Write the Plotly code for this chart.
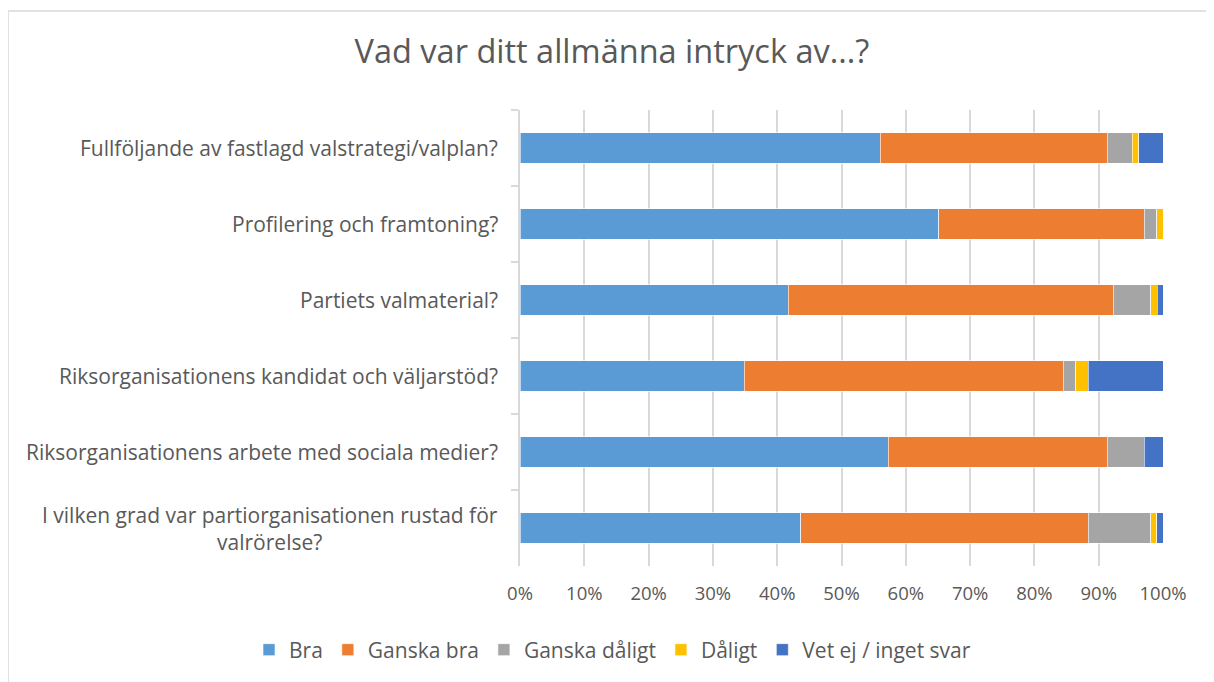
import plotly.graph_objects as go

categories = [
    "Fullföljande av fastlagd valstrategi/valplan?",
    "Profilering och framtoning?",
    "Partiets valmaterial?",
    "Riksorganisationens kandidat och väljarstöd?",
    "Riksorganisationens arbete med sociala medier?",
    "I vilken grad var partiorganisationen rustad för<br>valrörelse?",
]

series_names = ["Bra", "Ganska bra", "Ganska dåligt", "Dåligt", "Vet ej / inget svar"]
bra = [56.0, 65.1, 41.7, 34.9, 57.3, 43.7]
ganska_bra = [35.3, 32.0, 50.6, 49.6, 34.0, 44.7]
ganska_daligt = [3.9, 1.9, 5.8, 1.9, 5.8, 9.7]
daligt = [1.0, 1.0, 1.0, 2.0, 0.0, 0.9]
vet_ej = [3.8, 0.0, 0.9, 11.6, 2.9, 1.0]
series_values = [bra, ganska_bra, ganska_daligt, daligt, vet_ej]
colors = ["#5B9BD5", "#ED7D31", "#A5A5A5", "#FFC000", "#4472C4"]

tick_vals = [0, 10, 20, 30, 40, 50, 60, 70, 80, 90, 100]
tick_text = [f"{v}%" for v in tick_vals]

FONT = "Open Sans"
TXT = "#595959"

row_totals = [sum(r) for r in zip(*series_values)]

fig = go.Figure()
for name, vals, col in zip(series_names, series_values, colors):
    shares = [v / t * 100 for v, t in zip(vals, row_totals)]
    fig.add_trace(go.Bar(
        y=categories, x=shares, name=name, orientation="h",
        marker=dict(color=col, line=dict(color="white", width=0.6)),
        hoverinfo="skip",
    ))

# page has an 8px body margin: target pixel positions are shifted by -8
OFF = 8
W, H = 1214, 682
L, T = 520 - OFF, 110 - OFF
R = W - (1163 - OFF)
B = H - (566 - OFF)
pw, ph = W - L - R, H - T - B


def px_x(p):
    return (p - OFF - L) / pw


def px_y(p):
    return (H - B - (p - OFF)) / ph


annotations = []
for c in categories:
    annotations.append(dict(
        x=0, xref="paper", y=c, yref="y", text=c, showarrow=False,
        xanchor="right", yanchor="middle", xshift=-20, align="center",
        font=dict(family=FONT, size=21, color=TXT),
    ))

fig.update_layout(
    width=W, height=H,
    margin=dict(l=L, r=R, t=T, b=B),
    paper_bgcolor="white", plot_bgcolor="white",
    barmode="stack", bargap=0.6,
    title=dict(text="Vad var ditt allmänna intryck av...?", x=(612 - OFF) / W, xref="container",
               y=1 - (52 - OFF) / H, yref="container", xanchor="center", yanchor="middle",
               font=dict(family=FONT, size=32.5, color=TXT)),
    xaxis=dict(range=[0, 100], tickvals=tick_vals, ticktext=tick_text,
               showgrid=True, gridcolor="#d9d9d9", gridwidth=1.5,
               zeroline=False, showline=False, ticks="",
               tickfont=dict(family=FONT, size=18.5, color=TXT), ticklabelstandoff=14),
    yaxis=dict(autorange="reversed", showticklabels=False, showgrid=False,
               showline=True, linecolor="#d9d9d9", linewidth=1.5,
               ticks="outside", tickson="boundaries", ticklen=7,
               tickcolor="#d9d9d9", tickwidth=1.5, zeroline=False),
    legend=dict(orientation="h", xref="paper", x=px_x(249), xanchor="left",
                yref="paper", y=px_y(650), yanchor="middle",
                font=dict(family=FONT, size=21, color=TXT),
                itemwidth=30, traceorder="normal"),
    annotations=annotations,
    shapes=[dict(type="rect", xref="paper", yref="paper",
                 x0=px_x(8), x1=px_x(1240), y0=px_y(710), y1=px_y(11),
                 line=dict(color="#d9d9d9", width=1.5), layer="below")],
)

fig.write_html("out.html")
